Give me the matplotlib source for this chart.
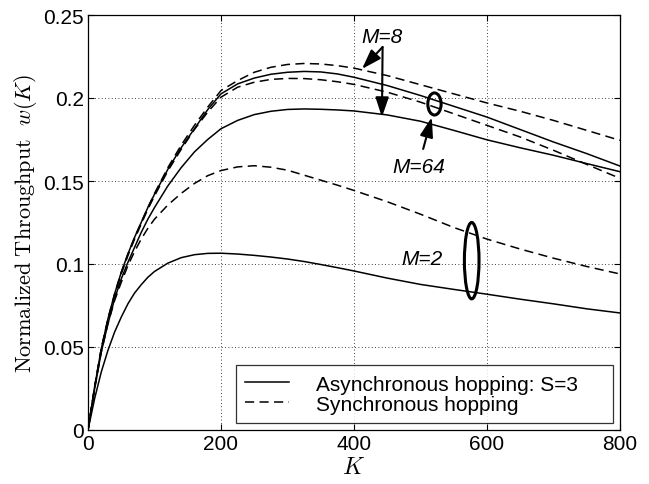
import matplotlib
matplotlib.use("Agg")
import matplotlib.pyplot as plt
from matplotlib.patches import Ellipse

# values
K = [0, 10, 20, 30, 40, 50, 60, 70, 80, 90, 100,
     120, 140, 160, 180, 200,
     225, 250, 275, 300, 325, 350, 375, 400,
     450, 500, 550, 600, 650, 700, 750, 800]

async_m64 = [0, .026, .049, .067, .082, .095, .106, .116, .125, .134, .142,
             .157, .170, .1815, .193, .2025,
             .2085, .212, .2143, .2155, .216, .2157, .2145, .2125,
             .2075, .2015, .195, .1885, .181, .1735, .1665, .159]
async_m8 = [0, .025, .047, .064, .079, .091, .101, .110, .119, .127, .134,
            .147, .158, .1675, .175, .1815,
            .1865, .190, .192, .1931, .1934, .1932, .1928, .1922,
            .1898, .186, .1805, .1748, .170, .1655, .1605, .1556]
async_m2 = [0, .019, .035, .048, .059, .068, .076, .0825, .0875, .092, .0955,
            .1005, .1038, .1056, .1064, .1065,
            .106, .1052, .1042, .103, .1015, .0997, .0978, .0958,
            .0915, .0877, .0847, .0818, .0788, .076, .073, .0705]

sync_m8 = [0, .026, .049, .067, .082, .095, .106, .116, .125, .134, .1425,
           .158, .1715, .1835, .1945, .2045,
           .2105, .2155, .2185, .2202, .2208, .2205, .2195, .218,
           .2135, .208, .2025, .197, .192, .1865, .1805, .1745]
sync_m64 = [0, .026, .049, .066, .081, .094, .105, .115, .124, .133, .141,
            .156, .169, .181, .1915, .2005,
            .2065, .2095, .2112, .2118, .2117, .211, .2098, .2082,
            .2035, .1975, .1905, .1835, .1765, .1685, .160, .1516]
sync_m2 = [0, .025, .047, .064, .078, .089, .099, .1075, .115, .1215, .127,
           .1355, .1425, .1485, .1532, .1563,
           .1585, .1592, .1583, .1565, .1535, .1505, .1475, .1443,
           .1375, .130, .122, .115, .109, .1035, .0985, .094]

xticks = [0, 200, 400, 600, 800]
yticks = [0, 0.05, 0.1, 0.15, 0.2, 0.25]
ytick_labels = ["0", "0.05", "0.1", "0.15", "0.2", "0.25"]

plt.rcParams["font.family"] = ["Liberation Sans", "DejaVu Sans"]
plt.rcParams["mathtext.fontset"] = "cm"

fig = plt.figure(figsize=(6.49, 4.85), dpi=100)
ax = fig.add_axes([88 / 649, 54 / 485, 532 / 649, 415 / 485])

lw = 1.1
dash = (0, (6, 3.5))
ax.plot(K, async_m64, "k-", lw=lw, label="Asynchronous hopping: S=3")
ax.plot(K, sync_m8, color="k", ls=dash, lw=lw, label="Synchronous hopping")
ax.plot(K, async_m8, "k-", lw=lw)
ax.plot(K, async_m2, "k-", lw=lw)
ax.plot(K, sync_m64, color="k", ls=dash, lw=lw)
ax.plot(K, sync_m2, color="k", ls=dash, lw=lw)

ax.set_xlim(0, 800)
ax.set_ylim(0, 0.25)
ax.set_xticks(xticks)
ax.set_yticks(yticks)
ax.set_yticklabels(ytick_labels)
ax.tick_params(direction="in", top=True, right=True, length=4, labelsize=15, pad=3)
ax.grid(True, color="k", ls=(0, (1, 3)), lw=0.6)
for s in ax.spines.values():
    s.set_linewidth(0.9)

ax.set_xlabel(r"$K$", fontsize=17, labelpad=2)
ax.set_ylabel(r"$\mathrm{Normalized\ Throughput}\ \ w(K)$", fontsize=16, labelpad=3)

# annotations
afont = dict(fontsize=15, style="italic", ha="center", va="center")
arrow = dict(arrowstyle="-|>,head_length=0.6,head_width=0.2", color="k", lw=1.5,
             mutation_scale=20, shrinkA=0, shrinkB=0)
ax.text(442, 0.2373, "M=8", **afont)
ax.annotate("", xy=(412, 0.2175), xytext=(443, 0.2307), arrowprops=arrow)
ax.annotate("", xy=(442, 0.1884), xytext=(443, 0.2307), arrowprops=arrow)

ax.add_patch(Ellipse((521, 0.1964), 20, 0.0133, fill=False, lw=2.2, ec="k"))
ax.annotate("", xy=(517, 0.1884), xytext=(504, 0.1693), arrowprops=arrow)
ax.text(498, 0.159, "M=64", **afont)

ax.add_patch(Ellipse((577, 0.102), 22, 0.046, fill=False, lw=2.2, ec="k"))
ax.text(502, 0.1036, "M=2", **afont)

leg = ax.legend(loc="lower left", bbox_to_anchor=(0.278, 0.017, 0.709, 0.149),
                mode="expand", borderaxespad=0,
                fontsize=15, frameon=True, fancybox=False, edgecolor="k",
                handlelength=2.1, handletextpad=1.3, borderpad=0.45, labelspacing=0.05)
leg.get_frame().set_linewidth(0.9)

fig.savefig("out.png", dpi=100)
